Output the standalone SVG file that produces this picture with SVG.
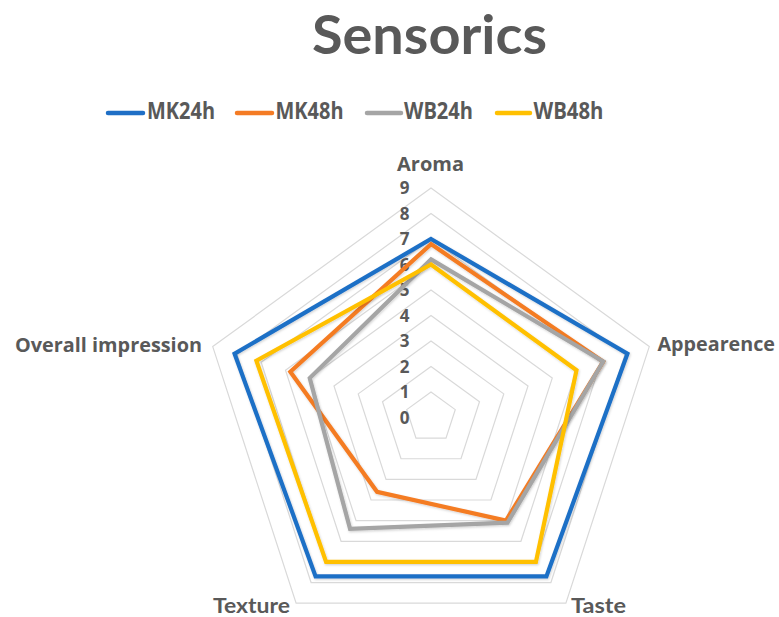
<svg xmlns="http://www.w3.org/2000/svg" width="779" height="617" viewBox="0 0 779 617">
  <defs>
    <style>
      .lbl { font-family: "Open Sans", "Liberation Sans", sans-serif; font-weight: bold; fill: #595959; }
      .lato { font-family: Lato, "Open Sans", "Liberation Sans", sans-serif; font-weight: bold; fill: #595959; }
      .ring { fill: none; stroke: #d9d9d9; stroke-width: 1.2; }
      .series { fill: none; stroke-width: 4.2; stroke-linejoin: miter; filter: url(#shadow); }
      .key { stroke-width: 4.5; stroke-linecap: round; }
      .mk24 { stroke: #1f6fc6; }
      .mk48 { stroke: #f47b24; }
      .wb24 { stroke: #a5a5a5; }
      .wb48 { stroke: #ffc000; }
    </style>
    <filter id="shadow" x="-10%" y="-10%" width="120%" height="120%">
      <feDropShadow dx="0.8" dy="1.2" stdDeviation="0.8" flood-color="#000" flood-opacity="0.18"/>
    </filter>
  </defs>
  <rect width="779" height="617" fill="#fff"/>

  <!-- title -->
  <text class="lato" x="312" y="54" font-size="54" textLength="235" lengthAdjust="spacingAndGlyphs">Sensorics</text>

  <!-- legend -->
  <g id="legend">
    <line class="key mk24" x1="108" y1="113" x2="143" y2="113"/>
    <text class="lbl" x="147" y="118.5" font-size="23" textLength="68" lengthAdjust="spacingAndGlyphs">MK24h</text>
    <line class="key mk48" x1="237" y1="113" x2="272" y2="113"/>
    <text class="lbl" x="275.5" y="118.5" font-size="23" textLength="68" lengthAdjust="spacingAndGlyphs">MK48h</text>
    <line class="key wb24" x1="367" y1="113" x2="401" y2="113"/>
    <text class="lbl" x="404" y="118.5" font-size="23" textLength="69" lengthAdjust="spacingAndGlyphs">WB24h</text>
    <line class="key wb48" x1="497" y1="113" x2="530" y2="113"/>
    <text class="lbl" x="533.5" y="118.5" font-size="23" textLength="70" lengthAdjust="spacingAndGlyphs">WB48h</text>
  </g>

  <!-- grid rings 1..9 -->
  <g id="grid">
    <polygon class="ring" points="431,392 455.25,409.62 445.99,438.13 416.01,438.13 406.75,409.62"/>
    <polygon class="ring" points="431,366.5 479.5,401.74 460.98,458.76 401.02,458.76 382.5,401.74"/>
    <polygon class="ring" points="431,341 503.76,393.86 475.97,479.39 386.03,479.39 358.24,393.86"/>
    <polygon class="ring" points="431,315.5 528.01,385.98 490.95,500.02 371.05,500.02 333.99,385.98"/>
    <polygon class="ring" points="431,290 552.26,378.1 505.94,520.65 356.06,520.65 309.74,378.1"/>
    <polygon class="ring" points="431,264.5 576.51,370.22 520.93,541.28 341.07,541.28 285.49,370.22"/>
    <polygon class="ring" points="431,239 600.76,362.34 535.92,561.91 326.08,561.91 261.24,362.34"/>
    <polygon class="ring" points="431,213.5 625.02,354.46 550.91,582.54 311.09,582.54 236.98,354.46"/>
    <polygon class="ring" points="431,188 649.27,346.58 565.9,603.17 296.1,603.17 212.73,346.58"/>
  </g>

  <!-- value scale -->
  <g id="scale" class="lbl" font-size="17" text-anchor="middle">
    <text x="404.5" y="423.5">0</text>
    <text x="404.5" y="398">1</text>
    <text x="404.5" y="372.5">2</text>
    <text x="404.5" y="347">3</text>
    <text x="404.5" y="321.5">4</text>
    <text x="404.5" y="296">5</text>
    <text x="404.5" y="270.5">6</text>
    <text x="404.5" y="245">7</text>
    <text x="404.5" y="219.5">8</text>
    <text x="404.5" y="194">9</text>
  </g>

  <!-- category labels -->
  <g id="axis-labels" class="lbl" font-size="19.5">
    <text x="397" y="170.5" textLength="67" lengthAdjust="spacingAndGlyphs">Aroma</text>
    <text x="657.5" y="350.5" textLength="117.5" lengthAdjust="spacingAndGlyphs">Appearence</text>
    <text x="15" y="351.5" textLength="187" lengthAdjust="spacingAndGlyphs">Overall impression</text>
    <text class="lato" font-size="20" x="213" y="612.7" textLength="77" lengthAdjust="spacingAndGlyphs">Texture</text>
    <text class="lato" font-size="20" x="571" y="612.7" textLength="55" lengthAdjust="spacingAndGlyphs">Taste</text>
  </g>

  <!-- data series -->
  <g id="series">
    <polygon id="MK24h" class="series mk24" points="431,239 627.44,353.67 546.41,576.35 315.59,576.35 234.56,353.67"/>
    <polygon id="MK48h" class="series mk48" points="431,244.1 603.19,361.55 505.94,520.65 377.04,491.77 290.34,371.8"/>
    <polygon id="WB24h" class="series wb24" points="431,259.4 603.19,361.55 507.44,522.71 350.06,528.9 309.74,378.1"/>
    <polygon id="WB48h" class="series wb48" points="431,264.5 576.51,370.22 535.92,561.91 326.08,561.91 256.39,360.76"/>
  </g>
</svg>
